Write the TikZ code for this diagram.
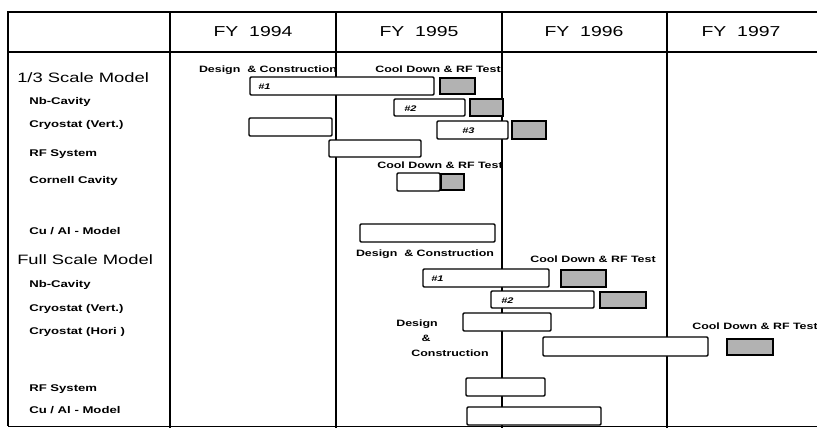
\documentclass[tikz,border=0pt]{standalone}
\usepackage{fontspec}
\setmainfont[FakeStretch=1.35]{Liberation Sans}
\begin{document}
\begin{tikzpicture}[x=0.75pt,y=-0.75pt,
  gridline/.style={line width=1.1pt},
  bar/.style={draw, line width=1.1pt, fill=white, rounded corners=0.8pt},
  shade/.style={draw, line width=1.7pt, fill=black!30},
  hdr/.style={font=\fontsize{10.8}{12}\selectfont, inner sep=0pt, anchor=mid},
  big/.style={font=\fontsize{10.2}{12}\selectfont, anchor=mid west, inner sep=0pt},
  lbl/.style={font=\bfseries\fontsize{7.3}{9}\selectfont, anchor=mid west, inner sep=0pt},
  tsk/.style={font=\bfseries\fontsize{6.9}{8}\selectfont, inner sep=0pt, anchor=mid},
  num/.style={font=\bfseries\itshape\fontsize{6.1}{7}\selectfont, inner sep=0pt, anchor=mid west}]
\useasboundingbox (0,0) rectangle (817,428);
\fill[white] (0,0) rectangle (817,428);
% grid
\draw[gridline] (817,12) -- (8,12) -- (8,426);
\draw[gridline] (8,52) -- (817,52);
\draw[line width=0.6pt] (8,426) -- (817,426);
\draw[gridline] (170,12) -- (170,428);
\draw[gridline] (336,12) -- (336,428);
\draw[gridline] (502,12) -- (502,428);
\draw[gridline] (667,12) -- (667,428);
% headers
\node[hdr] (h94) at (253,33) {FY\ \ 1994};
\node[hdr] (h95) at (419,33) {FY\ \ 1995};
\node[hdr] (h96) at (584,33) {FY\ \ 1996};
\node[hdr] (h97) at (741,33) {FY\ \ 1997};
% row labels
\node[big] (r1) at (17,79) {1/3 Scale Model};
\node[lbl] (r2) at (29,101) {Nb-Cavity};
\node[lbl] (r3) at (29,124) {Cryostat (Vert.)};
\node[lbl] (r4) at (29,153) {RF System};
\node[lbl] (r5) at (29,180) {Cornell Cavity};
\node[lbl] (r6) at (29,231) {Cu / Al - Model};
\node[big] (r7) at (17,261) {Full Scale Model};
\node[lbl] (r8) at (29,284) {Nb-Cavity};
\node[lbl] (r9) at (29,308) {Cryostat (Vert.)};
\node[lbl] (r10) at (29,331) {Cryostat (Hori )};
\node[lbl] (r11) at (29,388) {RF System};
\node[lbl] (r12) at (29,410) {Cu / Al - Model};
% 1/3 scale bars
\draw[bar] (250,77) rectangle (434,95);
\node[num] (n1) at (258,86) {\#1};
\draw[shade] (440,78) rectangle (475,94);
\draw[bar] (394,99) rectangle (465,116);
\node[num] (n2) at (404,107.5) {\#2};
\draw[shade] (470,99) rectangle (503,116);
\draw[bar] (249,118) rectangle (332,136);
\draw[bar] (437,121) rectangle (508,139);
\node[num] (n3) at (462,130) {\#3};
\draw[shade] (512,121) rectangle (546,139);
\draw[bar] (329,140) rectangle (421,157);
\draw[bar] (397,173) rectangle (440,191);
\draw[shade] (441,174) rectangle (464,190);
\draw[bar] (360,224) rectangle (495,242);
% full scale bars
\draw[bar] (423,269) rectangle (549,287);
\node[num] (n4) at (431,278) {\#1};
\draw[shade] (561,270) rectangle (606,287);
\draw[bar] (491,291) rectangle (594,308);
\node[num] (n5) at (501,299.5) {\#2};
\draw[shade] (600,292) rectangle (646,308);
\draw[bar] (463,313) rectangle (551,331);
\draw[bar] (543,337) rectangle (708,356);
\draw[shade] (727,339) rectangle (773,355);
\draw[bar] (466,378) rectangle (545,396);
\draw[bar] (467,407) rectangle (601,425);
% task labels
\node[tsk] (t1) at (268,69) {Design\ \ \& Construction};
\node[tsk] (t2) at (438,69) {Cool Down \& RF Test};
\node[tsk] (t3) at (440,165) {Cool Down \& RF Test};
\node[tsk] (t4) at (425,253) {Design\ \ \& Construction};
\node[tsk] (t5) at (593,259) {Cool Down \& RF Test};
\node[tsk] (t6) at (417,323) {Design};
\node[tsk] (t7) at (426,338) {\&};
\node[tsk] (t8) at (450,353) {Construction};
\node[tsk] (t9) at (755,326) {Cool Down \& RF Test};
\end{tikzpicture}
\end{document}
